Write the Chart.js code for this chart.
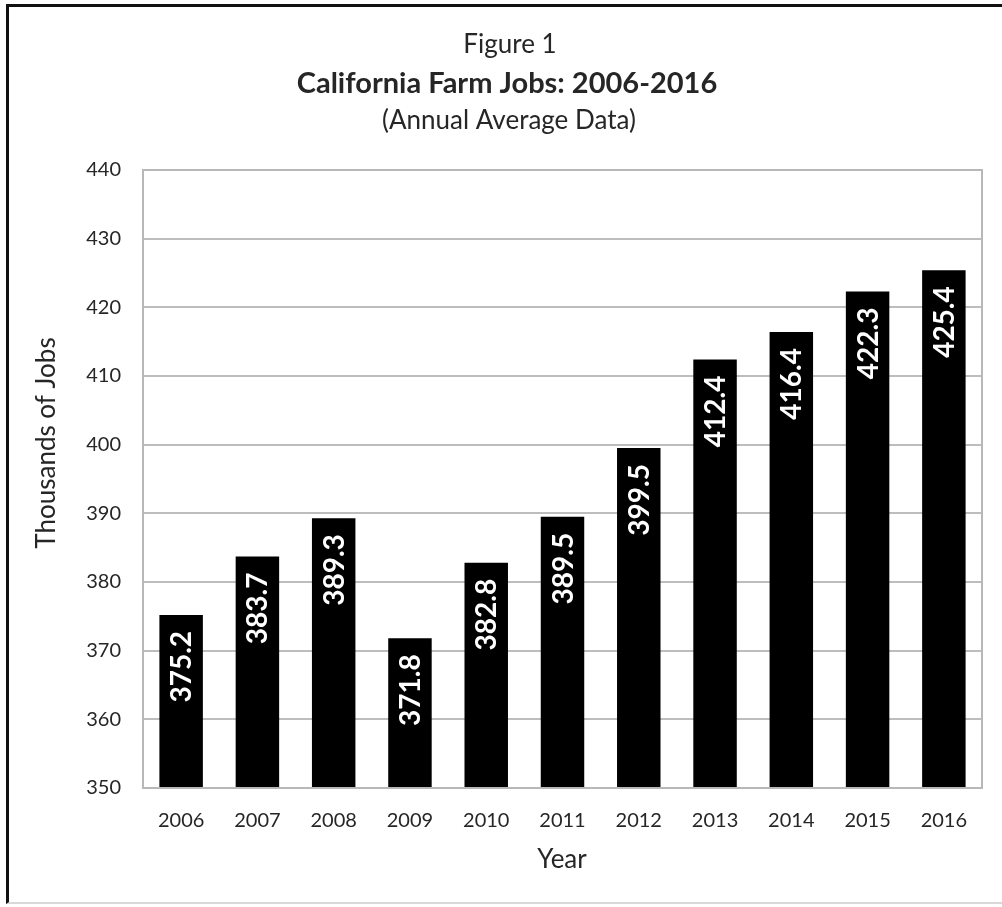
<!DOCTYPE html>
<html>
<head>
<meta charset="utf-8">
<script src="https://cdn.jsdelivr.net/npm/chart.js@4.4.0/dist/chart.umd.min.js"></script>
<style>
  html, body { margin: 0; padding: 0; background: #fff; }
  #wrap { position: absolute; left: 0; top: 0; width: 1002px; height: 907px; }
  #frame { position: absolute; left: 6px; top: 4px; width: 1100px; height: 900px;
           border-left: 3px solid #111; border-top: 3px solid #111; border-bottom: 2px solid #d8d8d8; box-sizing: border-box; }
  canvas { position: absolute; left: 0; top: 0; }
</style>
</head>
<body>
<div id="wrap">
  <div id="frame"></div>
  <canvas id="c" width="1002" height="907"></canvas>
</div>
<script>
const categories = ["2006","2007","2008","2009","2010","2011","2012","2013","2014","2015","2016"];
const jobs = [375.2, 383.7, 389.3, 371.8, 382.8, 389.5, 399.5, 412.4, 416.4, 422.3, 425.4];
const titleLines = ["Figure 1", "California Farm Jobs: 2006-2016", "(Annual Average Data)"];
const yAxisTitle = "Thousands of Jobs";
const xAxisTitle = "Year";

const FONT = "Lato, 'Open Sans', sans-serif";
const TXT = "#262626";

const decor = {
  id: 'decor',
  beforeDraw(chart) {
    const ctx = chart.ctx;
    ctx.save();
    ctx.fillStyle = TXT;
    ctx.textAlign = 'center';
    ctx.textBaseline = 'middle';
    ctx.font = "26px " + FONT;
    ctx.fillText(titleLines[0], 510, 45);
    ctx.font = "bold 29px " + FONT;
    ctx.fillText(titleLines[1], 507, 84);
    ctx.font = "26px " + FONT;
    ctx.fillText(titleLines[2], 509, 121);
    // axis titles
    ctx.fillText(xAxisTitle, 562, 860);
    ctx.save();
    ctx.translate(47, 443);
    ctx.rotate(-Math.PI / 2);
    ctx.fillText(yAxisTitle, 0, 0);
    ctx.restore();
    ctx.restore();
  },
  afterDatasetsDraw(chart) {
    const ctx = chart.ctx;
    const a = chart.chartArea;
    ctx.save();
    ctx.strokeStyle = '#b8b8b8';
    ctx.lineWidth = 2;
    ctx.strokeRect(a.left, a.top, a.right - a.left, a.bottom - a.top);
    const meta = chart.getDatasetMeta(0);
    ctx.fillStyle = '#ffffff';
    ctx.font = "bold 28px " + FONT;
    ctx.textAlign = 'right';
    ctx.textBaseline = 'middle';
    meta.data.forEach((bar, i) => {
      ctx.save();
      ctx.translate(bar.x, bar.y + 16);
      ctx.rotate(-Math.PI / 2);
      ctx.fillText(jobs[i].toFixed(1), 0, 1);
      ctx.restore();
    });
    ctx.restore();
  }
};

new Chart(document.getElementById('c'), {
  type: 'bar',
  data: {
    labels: categories,
    datasets: [{
      data: jobs,
      backgroundColor: '#000000',
      borderWidth: 0,
      categoryPercentage: 1.0,
      barPercentage: 0.57
    }]
  },
  options: {
    responsive: false,
    animation: false,
    devicePixelRatio: 1,
    layout: { padding: { left: 0, right: 20, top: 170, bottom: 19 } },
    plugins: { legend: { display: false }, tooltip: { enabled: false }, title: { display: false } },
    scales: {
      x: {
        grid: { display: false },
        border: { display: false },
        ticks: { color: TXT, font: { family: FONT, size: 20 }, padding: 13, maxRotation: 0 },
        afterFit(s) { s.height = 100; }
      },
      y: {
        min: 350, max: 440,
        ticks: { stepSize: 10, color: TXT, font: { family: FONT, size: 20 }, padding: 22 },
        grid: { color: '#bdbdbd', lineWidth: 2, drawTicks: false },
        border: { display: false },
        afterFit(s) { s.width = 143; }
      }
    }
  },
  plugins: [decor]
});
</script>
</body>
</html>
